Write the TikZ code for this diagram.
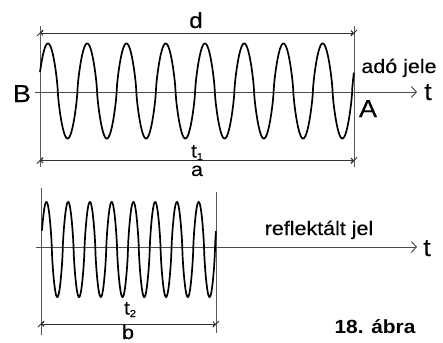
\documentclass[tikz,border=0pt]{standalone}
\usepackage{fontspec}
\setmainfont{Liberation Sans}
\newfontfamily\labfont{Liberation Sans}[FakeStretch=1.1,FakeBold=0.2]
\newfontfamily\capfont{Liberation Sans Bold}[FakeStretch=1.1]
\usetikzlibrary{arrows.meta}
\newcommand\dimtick[1]{\draw[tickline] ([shift={(-3,3)}]#1) -- ([shift={(3,-3)}]#1);}
\newcommand\subidx[1]{\raisebox{-2.5pt}{\fontsize{10}{10}\selectfont #1}}
\begin{document}
\begin{tikzpicture}[x=1pt,y=-1pt,
  declare function={swv(\t)=(sin(\t)<0?-1:1)*pow(abs(sin(\t))+0.00001,0.75);},
  thinline/.style={draw=black!65, line width=0.9pt},
  tickline/.style={draw=black!80, line width=0.8pt},
  wave/.style={draw=black, line width=1.7pt},
  axisline/.style={draw=black!70, line width=1pt, -{Straight Barb[length=5pt,width=11pt,line width=1pt]}},
  dimline/.style={draw=black!80, line width=0.9pt, {Straight Barb[length=2.5pt,width=5pt]}-{Straight Barb[length=2.5pt,width=5pt]}},
  lbl/.style={inner sep=0pt, anchor=base, font=\labfont\fontsize{19.5}{19.5}\selectfont},
  big/.style={inner sep=0pt, anchor=base, font=\labfont\fontsize{24.5}{24.5}\selectfont},
]
\useasboundingbox (0,0) rectangle (443,342);
% ---------- top: transmitted signal ----------
\coordinate (L1t) at (40,26);  \coordinate (L1b) at (40,167);
\coordinate (R1t) at (354,26); \coordinate (R1b) at (354,167);
\coordinate (d1l) at (40,33);  \coordinate (d1r) at (354,33);
\coordinate (a1l) at (40,160.5); \coordinate (a1r) at (354,160.5);
\coordinate (ax1s) at (35,92); \coordinate (ax1e) at (417,92);
\draw[thinline] (L1t) -- (L1b);
\draw[thinline] (R1t) -- (R1b);
\draw[axisline] (ax1s) -- (ax1e);
\draw[dimline] (d1l) -- (d1r);
\draw[dimline] (a1l) -- (a1r);
\dimtick{d1l}\dimtick{d1r}\dimtick{a1l}\dimtick{a1r}
\draw[wave] plot[domain=0:8, samples=800] ({40+39.25*\x},{91-47.5*swv(17+360*\x)});
\node[big, font=\labfont\fontsize{22}{22}\selectfont] (d) at (196,28) {d};
\node[big] (B) at (22,102) {B};
\node[big] (A) at (368,117) {A};
\node[big] (tA) at (428,100) {t};
\node[lbl] (ado) at (399,73) {adó jele};
\node[lbl, font=\labfont\fontsize{19}{19}\selectfont] (t1) at (197,157.5) {t\subidx{1}};
\node[lbl] (a) at (197,176) {a};
% ---------- bottom: reflected signal ----------
\coordinate (L2t) at (41,188);  \coordinate (L2b) at (41,335);
\coordinate (R2t) at (216,192); \coordinate (R2b) at (216,333);
\coordinate (b2l) at (41,324);  \coordinate (b2r) at (216,324);
\coordinate (ax2s) at (36,247); \coordinate (ax2e) at (417,247);
\draw[thinline] (L2t) -- (L2b);
\draw[thinline] (R2t) -- (R2b);
\draw[axisline] (ax2s) -- (ax2e);
\draw[dimline] (b2l) -- (b2r);
\dimtick{b2l}\dimtick{b2r}
\draw[wave] plot[domain=0:8, samples=800] ({42+21.75*\x},{249.5-47.5*swv(17+360*\x)});
\node[lbl] (refl) at (319,235) {reflektált jel};
\node[big] (tB) at (427,256) {t};
\node[lbl, font=\labfont\fontsize{19}{19}\selectfont] (t2) at (130,314.5) {t\subidx{2}};
\node[lbl] (b) at (128,339) {b};
\node[lbl, font=\capfont\fontsize{19}{19}\selectfont] (cap) at (375,333) {18. ábra};
\end{tikzpicture}
\end{document}
